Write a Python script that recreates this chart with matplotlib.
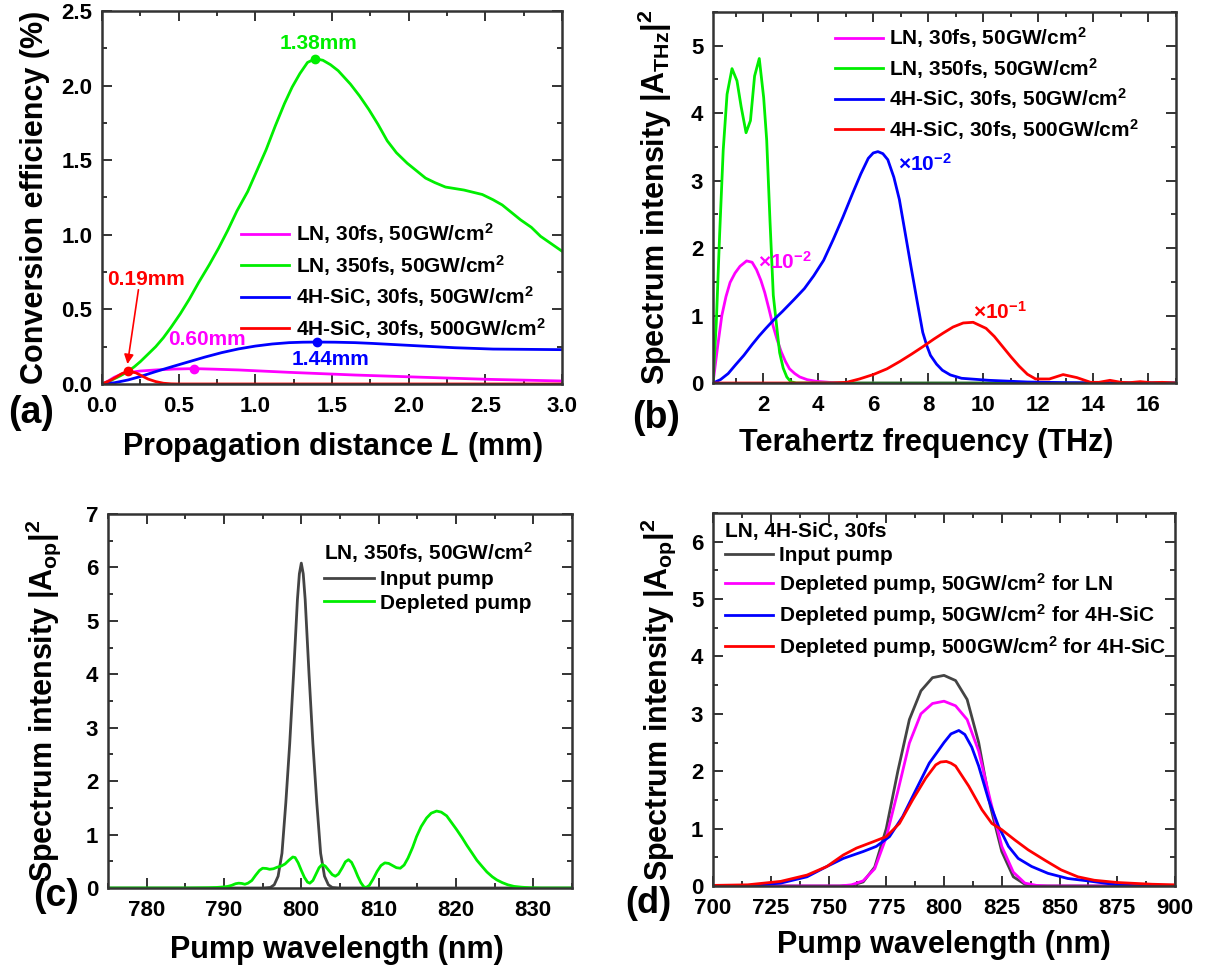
import numpy as np
import matplotlib.pyplot as plt
from matplotlib.ticker import MultipleLocator

plt.rcParams['font.family'] = ['Liberation Sans', 'DejaVu Sans']
plt.rcParams['font.weight'] = 'bold'
plt.rcParams['axes.labelweight'] = 'bold'
plt.rcParams['mathtext.fontset'] = 'custom'
plt.rcParams['mathtext.rm'] = 'Liberation Sans:bold'
plt.rcParams['mathtext.bf'] = 'Liberation Sans:bold'
plt.rcParams['mathtext.it'] = 'Liberation Sans:italic:bold'
plt.rcParams['axes.unicode_minus'] = False

MAG = '#ff00ff'
GRN = '#00ee00'
BLU = '#0000ff'
RED = '#ff0000'
GRY = '#444444'

# ---- (a) conversion efficiency vs propagation distance ----
a_ln30_L = [0, 0.04, 0.08, 0.12, 0.17, 0.25, 0.35, 0.47, 0.60, 0.74, 0.89, 1.22, 1.65,
            2.09, 2.52, 3.0]
a_ln30_E = [0, 0.02, 0.045, 0.063, 0.076, 0.087, 0.094, 0.100, 0.103, 0.099, 0.094, 0.078,
            0.060, 0.045, 0.031, 0.02]
a_ln350_L = [0, 0.04, 0.08, 0.12, 0.17, 0.21, 0.25, 0.30, 0.35, 0.40, 0.45, 0.51, 0.57,
             0.63, 0.70, 0.76, 0.82, 0.88, 0.95, 1.01, 1.07, 1.13, 1.19, 1.24, 1.29, 1.34,
             1.39, 1.44, 1.49, 1.54, 1.62, 1.68, 1.74, 1.80, 1.86, 1.92, 1.99, 2.05, 2.11,
             2.17, 2.24, 2.30, 2.36, 2.42, 2.48, 2.55, 2.61, 2.67, 2.73, 2.80, 2.86, 2.93,
             3.0]
a_ln350_E = [0, 0.015, 0.035, 0.055, 0.085, 0.115, 0.15, 0.20, 0.25, 0.31, 0.38, 0.47, 0.57,
             0.68, 0.80, 0.91, 1.03, 1.16, 1.29, 1.43, 1.57, 1.73, 1.88, 1.99, 2.08, 2.155,
             2.18, 2.17, 2.14, 2.10, 2.01, 1.93, 1.84, 1.74, 1.63, 1.55, 1.48, 1.43, 1.38,
             1.35, 1.32, 1.31, 1.30, 1.285, 1.27, 1.235, 1.20, 1.15, 1.10, 1.05, 0.99, 0.94,
             0.89]
a_sic50_L = [0, 0.08, 0.17, 0.25, 0.35, 0.46, 0.57, 0.67, 0.78, 0.89, 1.0, 1.11, 1.22, 1.31,
             1.40, 1.52, 1.65, 1.76, 1.87, 2.09, 2.30, 2.55, 3.0]
a_sic50_E = [0, 0.008, 0.027, 0.05, 0.083, 0.117, 0.15, 0.18, 0.21, 0.235, 0.254, 0.268,
             0.277, 0.280, 0.281, 0.280, 0.277, 0.272, 0.266, 0.254, 0.243, 0.234, 0.23]
a_sic500_L = [0, 0.05, 0.09, 0.13, 0.17, 0.22, 0.26, 0.30, 0.35, 0.40, 0.45, 0.5, 3.0]
a_sic500_E = [0, 0.022, 0.045, 0.07, 0.085, 0.075, 0.054, 0.033, 0.016, 0.005, 0.001, 0, 0]
a_peak_L = [0.60, 1.39, 1.40, 0.17]
a_peak_E = [0.103, 2.18, 0.281, 0.085]

# ---- (b) THz spectra ----
b_ln30_f = [0.18, 0.35, 0.50, 0.65, 0.80, 0.98, 1.16, 1.40, 1.60, 1.76, 1.92, 2.06, 2.21,
            2.36, 2.51, 2.66, 2.81, 2.96, 3.15, 3.33, 3.6, 3.93, 4.4, 5.0, 17.0]
b_ln30_I = [0, 0.55, 1.0, 1.28, 1.49, 1.63, 1.73, 1.81, 1.79, 1.68, 1.52, 1.34, 1.10,
            0.85, 0.64, 0.46, 0.32, 0.21, 0.14, 0.09, 0.05, 0.025, 0.01, 0.0, 0.0]
b_ln350_f = [0.18, 0.30, 0.42, 0.55, 0.69, 0.87, 1.05, 1.20, 1.38, 1.54, 1.69, 1.86, 2.02,
             2.13, 2.25, 2.37, 2.49, 2.60, 2.73, 2.86, 3.0, 3.2, 17.0]
b_ln350_I = [0, 0.9, 2.2, 3.45, 4.28, 4.66, 4.48, 4.1, 3.71, 3.89, 4.55, 4.81, 4.23,
             3.6, 2.4, 1.3, 0.85, 0.45, 0.22, 0.09, 0.02, 0.0, 0.0]
b_sic50_f = [0.18, 0.45, 0.73, 1.0, 1.30, 1.6, 1.86, 2.1, 2.42, 2.7, 3.13, 3.5, 3.84, 4.2,
             4.55, 4.9, 5.25, 5.55, 5.82, 6.0, 6.17, 6.35, 6.53, 6.75, 6.95, 7.15, 7.37,
             7.6, 7.80, 7.95, 8.08, 8.3, 8.51, 8.8, 9.21, 10.2, 11.6, 13.0, 15.0, 17.0]
b_sic50_I = [0, 0.05, 0.14, 0.27, 0.41, 0.57, 0.70, 0.81, 0.95, 1.06, 1.24, 1.40, 1.59,
             1.82, 2.13, 2.46, 2.81, 3.10, 3.33, 3.41, 3.43, 3.40, 3.31, 3.05, 2.72, 2.25,
             1.73, 1.20, 0.75, 0.55, 0.41, 0.28, 0.19, 0.12, 0.07, 0.04, 0.015, 0.005, 0.0,
             0.0]
b_sic500_f = [0.18, 4.5, 5.03, 5.5, 6.0, 6.5, 6.97, 7.4, 7.81, 8.2, 8.54, 8.9, 9.27, 9.63,
              10.1, 10.4, 10.7, 11.0, 11.3, 11.6, 11.9, 12.4, 12.9, 13.4, 13.9, 14.2,
              14.6, 15.0, 15.3, 15.7, 16.1, 16.5, 17.0]
b_sic500_I = [0, 0, 0.01, 0.06, 0.125, 0.21, 0.32, 0.43, 0.54, 0.65, 0.74, 0.83, 0.89, 0.90,
              0.81, 0.69, 0.54, 0.39, 0.25, 0.13, 0.06, 0.06, 0.125, 0.08, 0.01, 0.01,
              0.04, 0.01, 0.005, 0.02, 0.005, 0.01, 0.0]

# ---- (c) LN 350fs pump spectra ----
c_in_w = [775, 795, 796, 796.5, 797, 797.5, 798, 798.5, 799, 799.5, 799.75, 800, 800.25,
          800.5, 801, 801.5, 802, 802.5, 803, 803.5, 804, 805, 835]
c_in_I = [0, 0, 0.01, 0.06, 0.22, 0.65, 1.6, 2.7, 4.0, 5.4, 5.88, 6.08, 5.88,
          5.4, 4.0, 2.7, 1.6, 0.65, 0.22, 0.06, 0.01, 0, 0]
c_dep_w = [775, 785, 788, 789, 790, 790.5, 791, 791.5, 791.9, 792.3, 792.7, 793.1, 793.6,
           794.1, 794.6, 795.0, 795.5, 795.9, 796.4, 796.9, 797.4, 797.9, 798.4, 798.9,
           799.2, 799.6, 800.0, 800.4, 800.8, 801.1, 801.5, 801.9, 802.3, 802.7, 803.1,
           803.6, 804.0, 804.4, 804.8, 805.3, 805.7, 806.1, 806.5, 806.9, 807.3, 807.7,
           808.1, 808.4, 808.8, 809.3, 809.8, 810.3, 810.8, 811.3, 811.8, 812.3, 812.8,
           813.3, 813.8, 814.4, 814.9, 815.5, 816.2, 816.8, 817.5, 818.1, 818.8, 819.4,
           820.1, 820.8, 821.4, 822.1, 822.7, 823.4, 824.0, 824.7, 825.3, 826.0, 826.7,
           827.5, 828.5, 829.5, 831, 835]
c_dep_I = [0, 0, 0.005, 0.01, 0.02, 0.03, 0.05, 0.08, 0.09, 0.085, 0.07, 0.09, 0.14,
           0.24, 0.33, 0.37, 0.365, 0.35, 0.36, 0.39, 0.41, 0.45, 0.52, 0.58,
           0.57, 0.47, 0.33, 0.20, 0.11, 0.09, 0.14, 0.26, 0.38, 0.44, 0.41,
           0.32, 0.25, 0.22, 0.26, 0.38, 0.49, 0.53, 0.48, 0.36, 0.22, 0.10,
           0.02, 0.01, 0.05, 0.17, 0.31, 0.42, 0.47, 0.46, 0.42, 0.38, 0.37,
           0.43, 0.56, 0.76, 0.96, 1.15, 1.31, 1.40, 1.44, 1.42, 1.35, 1.23,
           1.09, 0.94, 0.80, 0.65, 0.52, 0.40, 0.30, 0.21, 0.15, 0.10, 0.06,
           0.03, 0.015, 0.005, 0, 0]

# ---- (d) 30fs pump spectra ----
d_in_w = [700, 755, 760, 765, 770, 775, 780, 785, 790, 795, 800, 805, 810, 815, 820, 825,
          830, 835, 840, 900]
d_in_I = [0, 0, 0.01, 0.07, 0.33, 1.0, 2.0, 2.9, 3.4, 3.63, 3.67, 3.58, 3.25, 2.5, 1.4,
          0.6, 0.16, 0.03, 0, 0]
d_ln_w = [700, 755, 760, 765, 770, 775, 780, 785, 790, 795, 800, 805, 810, 815, 820, 825,
          830, 835, 840, 845, 900]
d_ln_I = [0, 0, 0.02, 0.09, 0.3, 0.85, 1.65, 2.49, 3.0, 3.18, 3.22, 3.14, 2.9, 2.35, 1.5,
          0.69, 0.24, 0.05, 0.01, 0, 0]
d_sic50_w = [700, 715, 729.3, 740.7, 749.3, 756.4, 765, 770.7, 776.4, 782.1, 787.9, 793.6,
             797, 800, 803, 806.4, 809, 812, 815, 819.3, 823.6, 827.9, 832.1, 837.9, 845,
             853.6, 862, 875, 885, 900]
d_sic50_I = [0, 0.0, 0.05, 0.16, 0.34, 0.48, 0.60, 0.69, 0.86, 1.21, 1.68, 2.14,
             2.33, 2.50, 2.65, 2.71, 2.64, 2.42, 2.09, 1.50, 1.04, 0.69, 0.48, 0.34, 0.22,
             0.13, 0.09, 0.02, 0.0, 0.0]
d_sic500_w = [700, 715, 729.3, 740.7, 749.3, 756.4, 762.1, 769.3, 775, 780.7, 786.4, 792.1,
              796.4, 798.5, 801, 803, 805, 810.7, 816.4, 820.7, 825, 830.7, 836.4, 843.6,
              850.7, 857.9, 865, 875, 890, 900]
d_sic500_I = [0.01, 0.02, 0.08, 0.19, 0.34, 0.54, 0.66, 0.77, 0.86, 1.09, 1.50, 1.88,
              2.11, 2.16, 2.17, 2.14, 2.09, 1.74, 1.33, 1.09, 0.98, 0.80, 0.63, 0.45,
              0.28, 0.16, 0.10, 0.06, 0.03, 0.02]

leg_a = ['LN, 30fs, 50GW/cm$^{2}$', 'LN, 350fs, 50GW/cm$^{2}$',
         '4H-SiC, 30fs, 50GW/cm$^{2}$', '4H-SiC, 30fs, 500GW/cm$^{2}$']
leg_d = ['Input pump', 'Depleted pump, 50GW/cm$^{2}$ for LN',
         'Depleted pump, 50GW/cm$^{2}$ for 4H-SiC', 'Depleted pump, 500GW/cm$^{2}$ for 4H-SiC']

LW = 2.0
TICK = 16
LAB = 22
LEG = 15


def style(ax, xmaj, xmin, ymaj, ymin):
    ax.xaxis.set_major_locator(MultipleLocator(xmaj))
    ax.xaxis.set_minor_locator(MultipleLocator(xmin))
    ax.yaxis.set_major_locator(MultipleLocator(ymaj))
    ax.yaxis.set_minor_locator(MultipleLocator(ymin))
    ax.tick_params(which='both', direction='in', top=True, right=True,
                   width=1.4, color='#333333', labelsize=TICK)
    ax.tick_params(which='major', length=7, pad=7)
    ax.tick_params(axis='x', which='major', pad=8.5)
    ax.tick_params(which='minor', length=3.5)
    for s in ax.spines.values():
        s.set_linewidth(1.8)
        s.set_color('#333333')


fig = plt.figure(figsize=(12.12, 9.65), dpi=100)
ax1 = fig.add_axes([0.0842, 0.6021, 0.3795, 0.3865])
ax2 = fig.add_axes([0.5883, 0.6031, 0.3820, 0.3845])
ax3 = fig.add_axes([0.0891, 0.0798, 0.3828, 0.3876])
ax4 = fig.add_axes([0.5883, 0.0819, 0.3812, 0.3865])

# (a)
ax1.plot(a_ln30_L, a_ln30_E, color=MAG, lw=LW, label=leg_a[0])
ax1.plot(a_ln350_L, a_ln350_E, color=GRN, lw=LW, label=leg_a[1])
ax1.plot(a_sic50_L, a_sic50_E, color=BLU, lw=LW, label=leg_a[2])
ax1.plot(a_sic500_L, a_sic500_E, color=RED, lw=LW, label=leg_a[3])
for L, E, c in zip(a_peak_L, a_peak_E, [MAG, GRN, BLU, RED]):
    ax1.plot(L, E, 'o', color=c, ms=6, zorder=5)
ax1.text(1.415, 2.285, '1.38mm', color=GRN, fontsize=15, ha='center', va='center')
ax1.text(0.287, 0.697, '0.19mm', color=RED, fontsize=15, ha='center', va='center')
ax1.text(0.685, 0.295, '0.60mm', color=MAG, fontsize=15, ha='center', va='center')
ax1.text(1.487, 0.161, '1.44mm', color=BLU, fontsize=15, ha='center', va='center')
ax1.annotate('', xy=(0.163, 0.115), xytext=(0.24, 0.65),
             arrowprops=dict(arrowstyle='-|>', color=RED, lw=1.2, mutation_scale=14))
ax1.set_xlim(0, 3)
ax1.set_ylim(0, 2.5)
style(ax1, 0.5, 0.25, 0.5, 0.25)
ax1.xaxis.set_major_formatter('{x:.1f}')
ax1.yaxis.set_major_formatter('{x:.1f}')
ax1.set_xlabel(r'Propagation distance $\mathit{L}$ (mm)', fontsize=LAB)
ax1.set_ylabel('Conversion efficiency (%)', fontsize=LAB)
ax1.xaxis.set_label_coords(0.5, -0.123)
ax1.yaxis.set_label_coords(-0.113, 0.5)
ax1.legend(loc='upper left', bbox_to_anchor=(0.302, 0.436), frameon=False, fontsize=LEG,
           borderpad=0, borderaxespad=0, handlelength=2.3, handletextpad=0.35,
           labelspacing=0.32)

# (b)
ax2.plot(b_ln30_f, b_ln30_I, color=MAG, lw=LW, label=leg_a[0])
ax2.plot(b_ln350_f, b_ln350_I, color=GRN, lw=LW, label=leg_a[1])
ax2.plot(b_sic50_f, b_sic50_I, color=BLU, lw=LW, label=leg_a[2])
ax2.plot(b_sic500_f, b_sic500_I, color=RED, lw=LW, label=leg_a[3])
ax2.text(6.89, 3.25, r'×10$^{-2}$', color=BLU, fontsize=15, ha='left', va='center')
ax2.text(1.81, 1.79, r'×10$^{-2}$', color=MAG, fontsize=15, ha='left', va='center')
ax2.text(9.62, 1.05, r'×10$^{-1}$', color=RED, fontsize=15, ha='left', va='center')
ax2.set_xlim(0.18, 17)
ax2.set_ylim(0, 5.5)
style(ax2, 2, 1, 1, 0.5)
ax2.set_xlabel('Terahertz frequency (THz)', fontsize=LAB)
ax2.set_ylabel(r'Spectrum intensity |A$_{\rm THz}$|$^{2}$', fontsize=LAB)
ax2.xaxis.set_label_coords(0.46, -0.121)
ax2.yaxis.set_label_coords(-0.084, 0.5)
ax2.legend(loc='upper left', bbox_to_anchor=(0.2635, 0.964), frameon=False, fontsize=LEG,
           borderpad=0, borderaxespad=0, handlelength=2.3, handletextpad=0.3,
           labelspacing=0.27)

# (c)
ax3.plot(c_in_w, c_in_I, color=GRY, lw=LW, label='Input pump')
ax3.plot(c_dep_w, c_dep_I, color=GRN, lw=LW, label='Depleted pump')
ax3.set_xlim(775, 835)
ax3.set_ylim(0, 7)
style(ax3, 10, 5, 1, 0.5)
ax3.set_xlabel('Pump wavelength (nm)', fontsize=LAB)
ax3.set_ylabel(r'Spectrum intensity |A$_{\rm op}$|$^{2}$', fontsize=LAB)
ax3.xaxis.set_label_coords(0.494, -0.126)
ax3.yaxis.set_label_coords(-0.097, 0.5)
ax3.legend(loc='upper left', bbox_to_anchor=(0.4655, 0.929), frameon=False,
           fontsize=LEG, borderpad=0, borderaxespad=0, handlelength=2.4,
           handletextpad=0.3, labelspacing=0.22, alignment='left',
           title='LN, 350fs, 50GW/cm$^{2}$',
           title_fontproperties={'size': LEG, 'weight': 'bold'})

# (d)
ax4.plot(d_in_w, d_in_I, color=GRY, lw=LW, label=leg_d[0])
ax4.plot(d_ln_w, d_ln_I, color=MAG, lw=LW, label=leg_d[1])
ax4.plot(d_sic50_w, d_sic50_I, color=BLU, lw=LW, label=leg_d[2])
ax4.plot(d_sic500_w, d_sic500_I, color=RED, lw=LW, label=leg_d[3])
ax4.set_xlim(700, 900)
ax4.set_ylim(0, 6.5)
style(ax4, 25, 12.5, 1, 0.5)
ax4.set_xlabel('Pump wavelength (nm)', fontsize=LAB)
ax4.set_ylabel(r'Spectrum intensity |A$_{\rm op}$|$^{2}$', fontsize=LAB)
ax4.xaxis.set_label_coords(0.5, -0.118)
ax4.yaxis.set_label_coords(-0.076, 0.5)
ax4.legend(loc='upper left', bbox_to_anchor=(0.026, 0.977), frameon=False, fontsize=LEG,
           borderpad=0, borderaxespad=0, handlelength=2.3, handletextpad=0.3,
           labelspacing=0.27, alignment='left', title='LN, 4H-SiC, 30fs',
           title_fontproperties={'size': LEG, 'weight': 'bold'})

fig.text(0.0256, 0.572, '(a)', fontsize=27, ha='center', va='center')
fig.text(0.541, 0.567, '(b)', fontsize=27, ha='center', va='center')
fig.text(0.046, 0.0715, '(c)', fontsize=27, ha='center', va='center')
fig.text(0.535, 0.064, '(d)', fontsize=26, ha='center', va='center')

# tick labels exist only after a draw, then make them bold
fig.canvas.draw()
for ax in (ax1, ax2, ax3, ax4):
    for lbl in ax.get_xticklabels() + ax.get_yticklabels():
        lbl.set_fontweight('bold')

fig.savefig('out.png', dpi=100)
